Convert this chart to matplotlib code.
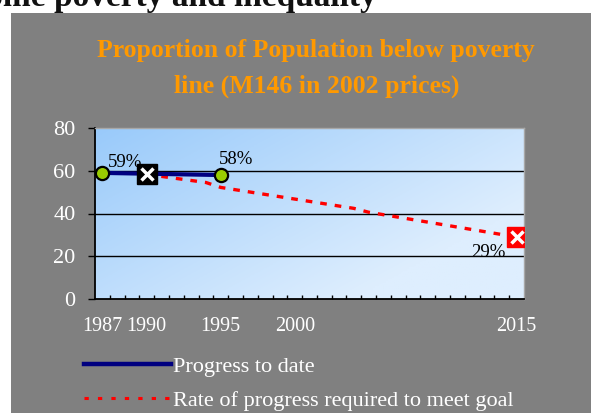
import numpy as np
import matplotlib.pyplot as plt
from matplotlib.lines import Line2D
from matplotlib.patches import Rectangle

plt.rcParams['font.family'] = ['Liberation Serif', 'DejaVu Serif']

# %% Datos
anios_avance = [1987, 1995]
valores_avance = [59, 58]
etiquetas_avance = ["59%", "58%"]

anio_base = 1990
valor_base = 58.3

anios_meta = [1990, 1994, 1995, 2004, 2005, 2015]
valores_meta = [58.3, 54.5, 52.2, 42.4, 40.6, 29]
anio_objetivo = 2015
valor_objetivo = 29
etiqueta_objetivo = "29%"

ticks_x = [1987, 1990, 1995, 2000, 2015]
ticks_y = [0, 20, 40, 60, 80]

titulo = "Proportion of Population below poverty\nline (M146 in 2002 prices)"
encabezado = "Income poverty and inequality"
leyenda = ["Progress to date", "Rate of progress required to meet goal"]

# %% Figura
W, H = 591, 413
fig = plt.figure(figsize=(W/100, H/100), dpi=100)
fig.patch.set_facecolor('white')

fig.text(377/W, 1 - 6/H, encabezado, ha='right', va='baseline',
         fontsize=24, fontweight='bold', color='#111111', zorder=0)
fig.patches.append(Rectangle((10.5/W, 0), 1, 1 - 13/H, transform=fig.transFigure,
                             facecolor='#808080', edgecolor='none', zorder=1))

fig.text(316/W, 1 - 57/H, titulo.split("\n")[0], ha='center', va='baseline',
         fontsize=18.5, fontweight='bold', color='#FF9900', zorder=3)
fig.text(317/W, 1 - 93/H, titulo.split("\n")[1], ha='center', va='baseline',
         fontsize=18.5, fontweight='bold', color='#FF9900', zorder=3)

ax = fig.add_axes([95/W, 114/H, 429/W, 171/H], zorder=2)
ax.set_xlim(1986.5, 2015.5)
ax.set_ylim(0, 80)

# fondo degradado del área del gráfico (más oscuro arriba a la izquierda)
u, v = np.meshgrid(np.linspace(0, 1, 200), np.linspace(0, 1, 100))
t = np.clip(0.75*u + 0.55*v, 0, 1)
c0 = np.array([0x99, 0xCA, 0xFA]) / 255
c1 = np.array([0xDE, 0xEE, 0xFE]) / 255
grad = c0[None, None, :]*(1 - t[..., None]) + c1[None, None, :]*t[..., None]
ax.imshow(grad, extent=[0, 1, 0, 1], origin='upper', transform=ax.transAxes,
          aspect='auto', zorder=0)

for yy in ticks_y[1:-1]:
    ax.axhline(yy, color='black', lw=1, zorder=1)

ax.plot(anios_meta, valores_meta, color='red', lw=2.4, dashes=(2.0, 2.4),
        dash_capstyle='butt', zorder=3)
ax.plot(anios_avance, valores_avance, color='#000080', lw=3, zorder=4,
        marker='o', markersize=9.5, markerfacecolor='#99CC00',
        markeredgecolor='black', markeredgewidth=1.6)

# marcadores de año base y meta
ax.plot([anio_base], [valor_base], marker='s', markersize=14, color='black', zorder=5)
ax.plot([anio_base], [valor_base], marker='x', markersize=9, color='white', mew=2.5, zorder=6)
ax.plot([anio_objetivo], [valor_objetivo], marker='s', markersize=14, color='red', zorder=5)
ax.plot([anio_objetivo], [valor_objetivo], marker='x', markersize=9, color='white', mew=2.5, zorder=6)

ax.annotate(etiquetas_avance[0], (anios_avance[0], valores_avance[0]), xytext=(4, 4),
            textcoords='offset points', ha='left', va='baseline', fontsize=13.5, zorder=7)
ax.annotate(etiquetas_avance[1], (anios_avance[1], valores_avance[1]), xytext=(-1, 8),
            textcoords='offset points', ha='left', va='baseline', fontsize=13.5, zorder=7)
ax.annotate(etiqueta_objetivo, (anio_objetivo, valor_objetivo), xytext=(-8, -14.5),
            textcoords='offset points', ha='right', va='baseline', fontsize=13.5, zorder=7)

# ejes
ax.set_xticks(ticks_x)
ax.set_xticks(np.arange(1987.5, 2015, 1), minor=True)
ax.set_yticks(ticks_y)
ax.tick_params(axis='x', which='major', length=0, pad=13, labelsize=14.5, labelcolor='white')
ax.tick_params(axis='x', which='minor', direction='in', length=3, width=1, color='black')
ax.tick_params(axis='y', direction='out', length=5, width=1, pad=9, labelsize=16,
               labelcolor='white', color='black')
for lado in ['left', 'bottom']:
    ax.spines[lado].set_color('black')
    ax.spines[lado].set_linewidth(1.3)
for lado in ['top', 'right']:
    ax.spines[lado].set_color('#A8A8A8')
    ax.spines[lado].set_linewidth(1)

# leyenda
h1 = Line2D([], [], color='#000080', lw=3.2)
h2 = Line2D([], [], color='red', lw=2.2, dashes=(1.4, 3.0), dash_capstyle='butt')
fig.legend([h1, h2], leyenda, loc='upper left', bbox_to_anchor=(84/W, 1 - 356/H),
           frameon=False, fontsize=16, labelcolor='white', handlelength=3.9,
           handletextpad=0.12, labelspacing=0.62, borderpad=0, borderaxespad=0)

plt.savefig('out.png', dpi=100)
